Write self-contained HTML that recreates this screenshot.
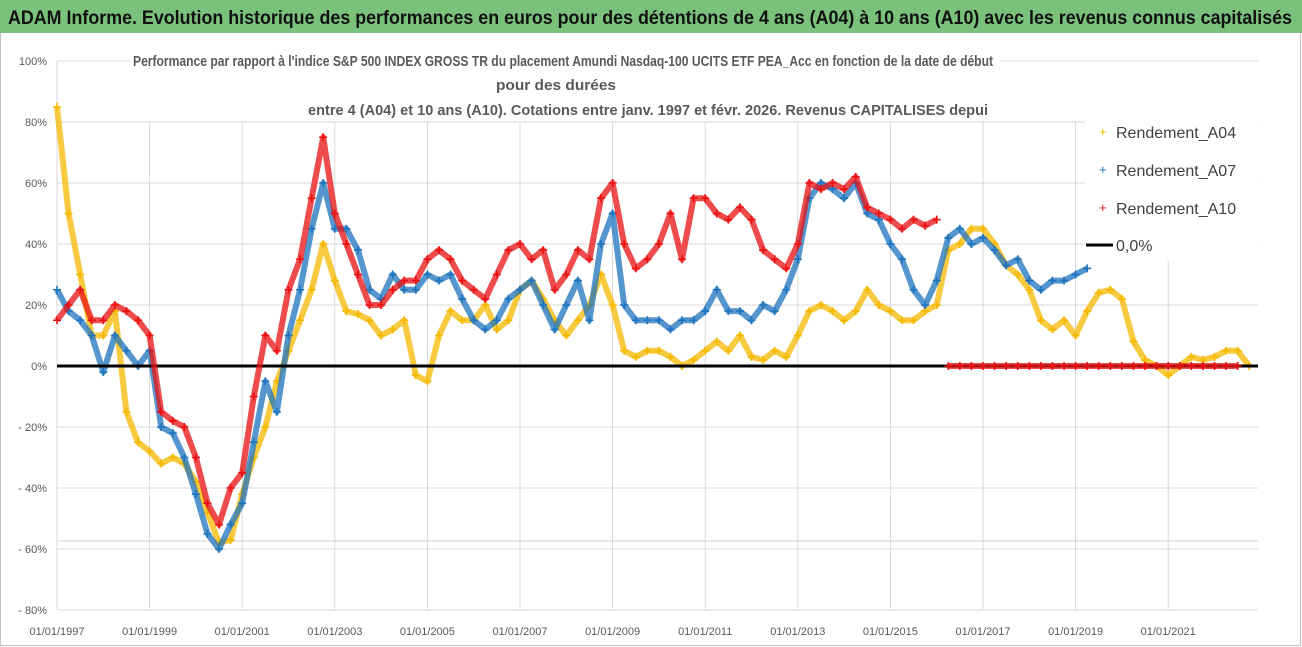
<!DOCTYPE html>
<html><head><meta charset="utf-8"><style>
html,body{margin:0;padding:0;background:#fff;}
svg{display:block;font-family:"Liberation Sans",sans-serif;}
</style></head><body>
<svg id="chart" width="1302" height="647" viewBox="0 0 1302 647">
<rect x="0.5" y="0.5" width="1300" height="645" fill="#fff" stroke="#bfbfbf"/>
<rect x="0" y="0" width="1302" height="33" fill="#7ac27c"/>
<text x="8" y="24" font-size="19" font-weight="bold" fill="#111" textLength="1284" lengthAdjust="spacingAndGlyphs">ADAM Informe. Evolution historique des performances en euros pour des détentions de 4 ans (A04) à 10 ans (A10) avec les revenus connus capitalisés</text>
<g id="grid"></g>
<g id="marks"></g>
<rect x="130" y="44" width="870" height="77" fill="#fff"/>
<g fill="#595959" font-size="15" font-weight="bold" text-anchor="middle">
<text x="563" y="66" textLength="860" lengthAdjust="spacingAndGlyphs">Performance par rapport à l'indice S&amp;P 500 INDEX GROSS TR  du placement Amundi Nasdaq-100 UCITS ETF PEA_Acc en fonction de la date de début</text>
<text x="556" y="90" textLength="120" lengthAdjust="spacingAndGlyphs">pour des durées</text>
<text x="648" y="115" textLength="680" lengthAdjust="spacingAndGlyphs">entre 4 (A04) et 10 ans (A10). Cotations entre janv. 1997 et févr. 2026. Revenus CAPITALISES depui</text>
</g>
<g id="legend">
<rect x="1085" y="115" width="172" height="145" fill="#fff"/>
<g><text x="1099" y="136" fill="#f5b800" font-size="13">+</text><text x="1116" y="138" font-size="16" fill="#404040">Rendement_A04</text></g>
<g><text x="1099" y="174" fill="#1e73be" font-size="13">+</text><text x="1116" y="176" font-size="16" fill="#404040">Rendement_A07</text></g>
<g><text x="1099" y="212" fill="#e81010" font-size="13">+</text><text x="1116" y="214" font-size="16" fill="#404040">Rendement_A10</text></g>
<g><line x1="1086" y1="245" x2="1113" y2="245" stroke="#000" stroke-width="3"/><text x="1116" y="251" font-size="16" fill="#404040">0,0%</text></g>
</g>
</svg>
<script>
const yTicks=[100,80,60,40,20,0,-20,-40,-60,-80];
const yTickLabels=["100%","80%","60%","40%","20%","0%","- 20%","- 40%","- 60%","- 80%"];
const xTickYears=[1997,1999,2001,2003,2005,2007,2009,2011,2013,2015,2017,2019,2021];
const xTickLabels=["01/01/1997","01/01/1999","01/01/2001","01/01/2003","01/01/2005","01/01/2007","01/01/2009","01/01/2011","01/01/2013","01/01/2015","01/01/2017","01/01/2019","01/01/2021"];
const startYear=1997, step=0.25;
const a04=[85,50,30,10,10,18,-15,-25,-28,-32,-30,-32,-38,-48,-58,-57,-42,-30,-20,-5,5,15,25,40,28,18,17,15,10,12,15,-3,-5,10,18,15,15,20,12,15,25,28,22,15,10,15,20,30,20,5,3,5,5,3,0,2,5,8,5,10,3,2,5,3,10,18,20,18,15,18,25,20,18,15,15,18,20,38,40,45,45,40,33,30,25,15,12,15,10,18,24,25,22,8,2,0,-3,0,3,2,3,5,5,0];
const a07=[25,18,15,10,-2,10,5,0,5,-20,-22,-30,-42,-55,-60,-52,-45,-25,-5,-15,10,25,45,60,45,45,38,25,22,30,25,25,30,28,30,22,15,12,15,22,25,28,20,12,20,28,15,40,50,20,15,15,15,12,15,15,18,25,18,18,15,20,18,25,35,55,60,58,55,60,50,48,40,35,25,20,28,42,45,40,42,38,33,35,28,25,28,28,30,32];
const a10=[15,20,25,15,15,20,18,15,10,-15,-18,-20,-30,-45,-52,-40,-35,-10,10,5,25,35,55,75,50,40,30,20,20,25,28,28,35,38,35,28,25,22,30,38,40,35,38,25,30,38,35,55,60,40,32,35,40,50,35,55,55,50,48,52,48,38,35,32,40,60,58,60,58,62,52,50,48,45,48,46,48,0,0,0,0,0,0,0,0,0,0,0,0,0,0,0,0,0,0,0,0,0,0,0,0,0,0];
const NS="http://www.w3.org/2000/svg";
const X0=57,PXY=46.3,Y0=366,PXP=3.05;
function xs(t){return X0+(t-1997)*PXY;}
function ys(v){return Y0-v*PXP;}
function mk(tag,attrs,parent){const e=document.createElementNS(NS,tag);for(const k in attrs)e.setAttribute(k,attrs[k]);parent.appendChild(e);return e;}
const grid=document.getElementById('grid'),svg=document.getElementById('chart'),marks=document.getElementById('marks');
yTicks.forEach((v,i)=>{
  const l=mk('line',{x1:57,x2:1258,y1:ys(v),y2:ys(v),stroke:'#d9d9d9','stroke-width':1},grid);
  
  
  const t=mk('text',{x:47,y:ys(v)+4,'text-anchor':'end','font-size':11,fill:'#595959'},svg);
  t.textContent=yTickLabels[i];
  
  
});
mk('line',{x1:57,x2:1258,y1:541,y2:541,stroke:'#d0d0d0'},grid);
mk('line',{x1:57,x2:57,y1:61,y2:609,stroke:'#d9d9d9'},grid);
xTickYears.forEach((yr,i)=>{
  const l=mk('line',{x1:xs(yr),x2:xs(yr),y1:122,y2:609,stroke:'#d9d9d9'},grid);
  
  
  const t=mk('text',{x:xs(yr),y:635,'text-anchor':'middle','font-size':11,fill:'#595959'},svg);
  t.textContent=xTickLabels[i];
  
  
});
function series(arr,color,name){
  const g=mk('g',{},marks);
  
  
  let d='';
  arr.forEach((v,i)=>{const x=xs(startYear+i*step),y=ys(v);const brk=i===0||Math.abs(v-arr[i-1])>35;d+=(brk?'M':'L')+x.toFixed(1)+' '+y.toFixed(1);});
  mk('path',{d:d,fill:'none',stroke:color,'stroke-width':6,'stroke-opacity':0.75,'stroke-linejoin':'round'},g);
  arr.forEach((v,i)=>{
    const x=xs(startYear+i*step),y=ys(v);
    const p=mk('path',{d:`M${x-4} ${y}H${x+4}M${x} ${y-4}V${y+4}`,stroke:color,'stroke-width':1.6},g);
    
    
  });
}
series(a04,'#f5b800','series-a04');
series(a07,'#1e73be','series-a07');
const zl=mk('line',{x1:57,x2:1258,y1:Y0,y2:Y0,stroke:'#000','stroke-width':3},marks);


series(a10,'#e81010','series-a10');
</script>
</body></html>
